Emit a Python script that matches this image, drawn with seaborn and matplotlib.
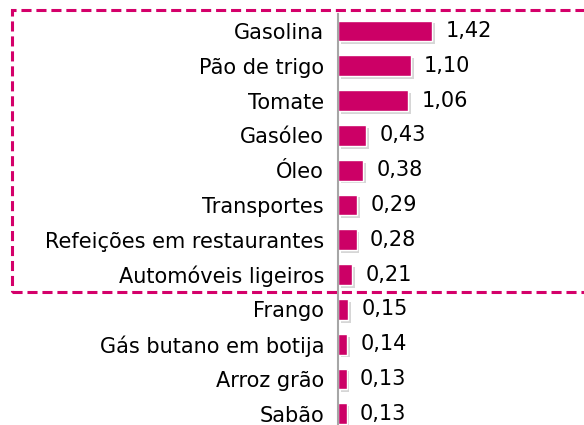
import matplotlib
matplotlib.use("Agg")
import matplotlib.pyplot as plt
import matplotlib.patheffects as pe
from matplotlib.patches import Rectangle
from matplotlib.ticker import FixedLocator
import seaborn as sns

# data
produtos = ["Gasolina", "Pão de trigo", "Tomate", "Gasóleo", "Óleo", "Transportes",
            "Refeições em restaurantes", "Automóveis ligeiros", "Frango",
            "Gás butano em botija", "Arroz grão", "Sabão"]
contributos = [1.42, 1.10, 1.06, 0.43, 0.38, 0.29, 0.28, 0.21, 0.15, 0.14, 0.13, 0.13]

magenta = "#CC0066"

sns.set_style("white")
plt.rcParams["font.family"] = ["DejaVu Sans"]

fig = plt.figure(figsize=(5.84, 4.25), dpi=100)
ax = fig.add_axes([338 / 584, 0, 246 / 584, (425 - 13.6) / 425])

sns.barplot(x=contributos, y=produtos, color=magenta, width=0.6, ax=ax,
            orient="h", saturation=1)

for bar in ax.patches:
    bar.set_path_effects([pe.SimplePatchShadow(offset=(2, -2), shadow_rgbFace="#999999", alpha=0.4),
                          pe.Normal()])

# value labels with comma decimals
for i, v in enumerate(contributos):
    ax.text(v + 0.2, i, f"{v:.2f}".replace(".", ","), va="center", ha="left",
            fontsize=15, color="black")

ax.set_xlim(0, 246 / 66.2)
ax.set_ylim(11.32, -0.5)
ax.set_xlabel("")
ax.set_ylabel("")
ax.set_xticks([])

for s in ["top", "right", "bottom"]:
    ax.spines[s].set_visible(False)
ax.spines["left"].set_color("#A6A6A6")
ax.spines["left"].set_linewidth(1.5)

ax.tick_params(axis="y", which="major", length=0, pad=10, labelsize=15, labelcolor="black")
ax.yaxis.set_minor_locator(FixedLocator([i - 0.5 for i in range(len(produtos) + 1)]))
ax.tick_params(axis="y", which="minor", length=5, width=1.5, color="#A6A6A6")

# dashed box around the top 8
fig.patches.append(Rectangle((12 / 584, 1 - 292 / 425), 1.0, (292 - 10) / 425,
                             transform=fig.transFigure, fill=False, edgecolor="#D4006A",
                             linewidth=2.2, linestyle=(0, (3.3, 1.6)), clip_on=False))

fig.savefig("out.png", dpi=100)
